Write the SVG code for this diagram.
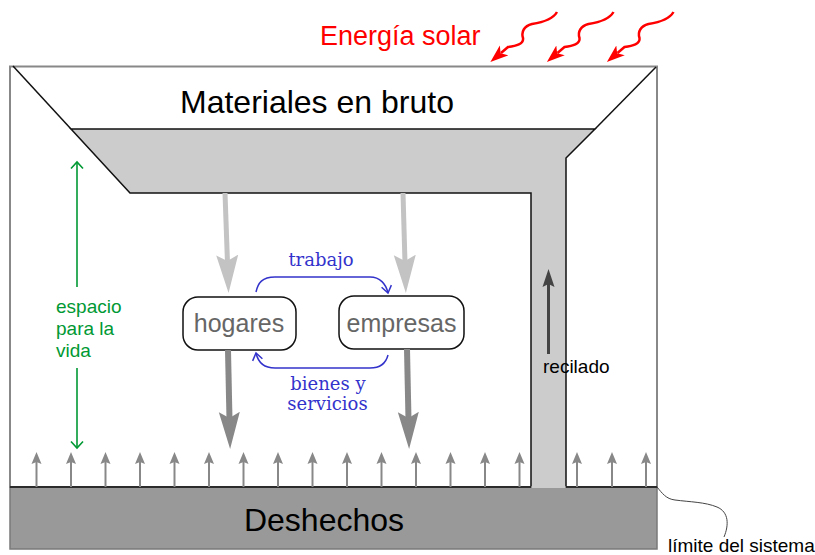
<svg xmlns="http://www.w3.org/2000/svg" width="815" height="555" viewBox="0 0 815 555">
<style>
.sans{font-family:"Liberation Sans",Arial,sans-serif}
.serif{font-family:"DejaVu Serif","Liberation Serif",serif;fill:#3333cc;font-size:18px}
.node rect{fill:#fff;stroke:#111;stroke-width:1.5}
.node text{font-family:"Liberation Sans",Arial,sans-serif;font-size:25px;fill:#666;text-anchor:middle}
.up{stroke:#888;stroke-width:2;marker-end:url(#hs)}
.blue{fill:none;stroke:#3333cc;stroke-width:1.5;marker-end:url(#hb)}
</style>
<defs>
<marker id="hl" markerUnits="userSpaceOnUse" viewBox="0 0 40 24" markerWidth="40" markerHeight="24" refX="8" refY="12" orient="auto"><path d="M0,1 L38,12 L0,23 L6,12 Z" fill="#c3c3c3"/></marker>
<marker id="hd" markerUnits="userSpaceOnUse" viewBox="0 0 40 24" markerWidth="40" markerHeight="24" refX="8" refY="12" orient="auto"><path d="M0,1.5 L37,12 L0,22.5 L6,12 Z" fill="#888"/></marker>
<marker id="hr" markerUnits="userSpaceOnUse" viewBox="0 0 20 14" markerWidth="20" markerHeight="14" refX="4" refY="7" orient="auto"><path d="M0,1 L18,7 L0,13 L3,7 Z" fill="#444"/></marker>
<marker id="hs" markerUnits="userSpaceOnUse" viewBox="0 0 14 12" markerWidth="14" markerHeight="12" refX="3" refY="6" orient="auto"><path d="M0,1 L12,6 L0,11 L2,6 Z" fill="#888"/></marker>
<marker id="hb" markerUnits="userSpaceOnUse" viewBox="0 0 12 12" markerWidth="12" markerHeight="12" refX="9" refY="6" orient="auto"><path d="M2,1 L9,6 L2,11" fill="none" stroke="#3333cc" stroke-width="1.5"/></marker>
<marker id="hred" markerUnits="userSpaceOnUse" viewBox="0 0 20 14" markerWidth="20" markerHeight="14" refX="4" refY="7" orient="auto"><path d="M0,0.5 L18,7 L0,13.5 L4.5,7 Z" fill="#ff0000"/></marker>
<path id="ray" d="M557,12 C553,19 545,22 532,24 C524,26 521,32 523,38 C524,44 516,46 508,47 L501,53" fill="none" stroke="#ff0000" stroke-width="2.5" marker-end="url(#hred)"/>
</defs>

<g id="frame">
<rect x="10" y="66.5" width="647" height="420.5" fill="#fff" stroke="#888" stroke-width="2"/>
</g>

<g id="materiales">
<path d="M566,487 L566,158 L595,129 L71,129 L130,193 L531,193 L531,487" fill="#cccccc" stroke="#111" stroke-width="1.5"/>
<line x1="13" y1="66" x2="71" y2="129" stroke="#111" stroke-width="1.5"/>
<line x1="656" y1="67" x2="595" y2="129" stroke="#111" stroke-width="1.5"/>
<text x="180" y="113" class="sans" font-size="32" fill="#000">Materiales en bruto</text>
</g>

<g id="deshechos">
<rect x="10" y="487" width="647" height="62" fill="#999999" stroke="#7a7a7a" stroke-width="1.5"/>
<rect x="531.75" y="486" width="33.5" height="2" fill="#cccccc"/>
<line x1="10" y1="487" x2="531" y2="487" stroke="#111" stroke-width="1.5"/>
<line x1="566" y1="487" x2="657" y2="487" stroke="#111" stroke-width="1.5"/>
<text x="324" y="531" class="sans" font-size="32" fill="#000" text-anchor="middle">Deshechos</text>
</g>

<g id="energia">
<text x="320" y="45" class="sans" font-size="27" fill="#ff0000">Energía solar</text>
<use href="#ray"/>
<use href="#ray" transform="translate(56.5,0)"/>
<use href="#ray" transform="translate(116.5,0)"/>
</g>

<g id="hogares" class="node">
<rect x="183" y="297" width="113" height="53" rx="15"/>
<text x="239" y="332">hogares</text>
</g>

<g id="empresas" class="node">
<rect x="339" y="296" width="125" height="53" rx="15"/>
<text x="401.5" y="332">empresas</text>
</g>

<g id="connectors">
<line x1="225" y1="193" x2="227.5" y2="263" stroke="#c3c3c3" stroke-width="5" marker-end="url(#hl)"/>
<line x1="403" y1="193" x2="405" y2="263" stroke="#c3c3c3" stroke-width="5" marker-end="url(#hl)"/>
<line x1="228" y1="350" x2="229.5" y2="420" stroke="#888" stroke-width="6" marker-end="url(#hd)"/>
<line x1="407" y1="349" x2="408.5" y2="420" stroke="#888" stroke-width="6" marker-end="url(#hd)"/>
<path class="blue" d="M256,292 C258,283 262,277 275,277 L370,277 C380,277 386,284 388,293"/>
<path class="blue" d="M388,355 C386,363 381,368 370,368 L275,368 C264,368 258,362 256,353"/>
<line x1="548.5" y1="354" x2="548.5" y2="283" stroke="#444" stroke-width="3" marker-end="url(#hr)"/>
<g id="uparrows">
<line class="up" x1="36.5" y1="487" x2="36.5" y2="461"/>
<line class="up" x1="71" y1="487" x2="71" y2="461"/>
<line class="up" x1="105.5" y1="487" x2="105.5" y2="461"/>
<line class="up" x1="140" y1="487" x2="140" y2="461"/>
<line class="up" x1="174.5" y1="487" x2="174.5" y2="461"/>
<line class="up" x1="209" y1="487" x2="209" y2="461"/>
<line class="up" x1="243.5" y1="487" x2="243.5" y2="461"/>
<line class="up" x1="278" y1="487" x2="278" y2="461"/>
<line class="up" x1="312.5" y1="487" x2="312.5" y2="461"/>
<line class="up" x1="347" y1="487" x2="347" y2="461"/>
<line class="up" x1="381.5" y1="487" x2="381.5" y2="461"/>
<line class="up" x1="416" y1="487" x2="416" y2="461"/>
<line class="up" x1="450.5" y1="487" x2="450.5" y2="461"/>
<line class="up" x1="485" y1="487" x2="485" y2="461"/>
<line class="up" x1="519.5" y1="487" x2="519.5" y2="461"/>
<line class="up" x1="577" y1="487" x2="577" y2="461"/>
<line class="up" x1="612" y1="487" x2="612" y2="461"/>
<line class="up" x1="646" y1="487" x2="646" y2="461"/>
</g>
<g id="espacio-arrow" stroke="#009933" stroke-width="1.6" fill="none">
<line x1="77" y1="162" x2="77" y2="287"/>
<polyline points="71,168.5 77,162 83,168.5"/>
<line x1="77" y1="368" x2="77" y2="448"/>
<polyline points="71,441.5 77,448 83,441.5"/>
</g>
<path d="M657,487 C662,493 666,499 675,500 C690,502 705,502 717,507 C729,512 729,525 724,537" fill="none" stroke="#444" stroke-width="1"/>
</g>

<g id="labels">
<text x="321" y="266" class="serif" text-anchor="middle">trabajo</text>
<text x="328" y="390" class="serif" text-anchor="middle">bienes y</text>
<text x="327.5" y="410" class="serif" text-anchor="middle">servicios</text>
<text class="sans" font-size="19" fill="#009933"><tspan x="56" y="313">espacio</tspan><tspan x="56" y="335">para la</tspan><tspan x="56" y="357">vida</tspan></text>
<text x="543" y="373" class="sans" font-size="19" fill="#000">recilado</text>
<text x="668" y="552" class="sans" font-size="19" fill="#000">límite del sistema</text>
</g>
</svg>
